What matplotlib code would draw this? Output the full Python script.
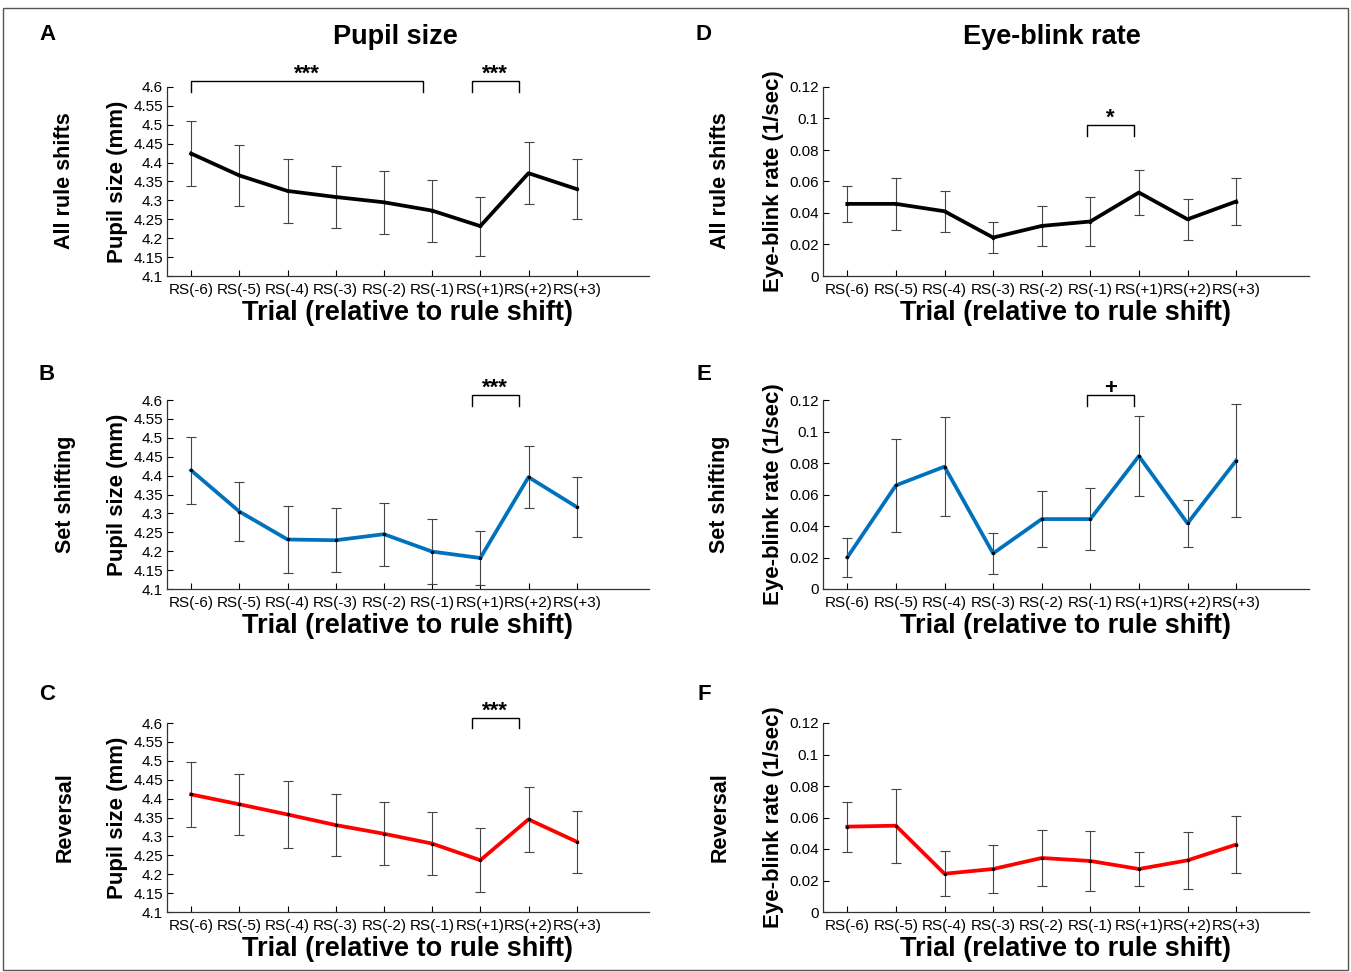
import matplotlib
matplotlib.use("Agg")
import matplotlib.pyplot as plt
from matplotlib.patches import Rectangle
from matplotlib.ticker import FuncFormatter

plt.rcParams["font.family"] = ["Liberation Sans", "DejaVu Sans"]

trial_labels = ["RS(-6)", "RS(-5)", "RS(-4)", "RS(-3)", "RS(-2)", "RS(-1)", "RS(+1)", "RS(+2)", "RS(+3)"]

# pupil size (mm): mean and s.e.m. per trial
pupil_all = [4.424, 4.366, 4.325, 4.309, 4.295, 4.273, 4.232, 4.372, 4.330]
pupil_all_err = [0.085, 0.080, 0.085, 0.083, 0.083, 0.082, 0.078, 0.082, 0.080]
pupil_set = [4.414, 4.305, 4.231, 4.229, 4.245, 4.199, 4.182, 4.396, 4.317]
pupil_set_err = [0.088, 0.077, 0.088, 0.085, 0.083, 0.085, 0.072, 0.082, 0.080]
pupil_rev = [4.411, 4.385, 4.358, 4.330, 4.307, 4.281, 4.237, 4.345, 4.286]
pupil_rev_err = [0.087, 0.081, 0.088, 0.081, 0.083, 0.084, 0.084, 0.086, 0.082]

# eye-blink rate (1/sec): mean and s.e.m. per trial
blink_all = [0.0458, 0.0458, 0.0411, 0.0244, 0.0318, 0.0346, 0.0530, 0.0360, 0.0473]
blink_all_err = [0.0115, 0.0163, 0.0129, 0.0097, 0.0127, 0.0158, 0.0145, 0.0132, 0.0150]
blink_set = [0.0201, 0.0658, 0.0777, 0.0226, 0.0444, 0.0444, 0.0844, 0.0417, 0.0815]
blink_set_err = [0.0122, 0.0295, 0.0313, 0.0128, 0.0178, 0.0195, 0.0252, 0.0151, 0.0360]
blink_rev = [0.0542, 0.0548, 0.0243, 0.0273, 0.0343, 0.0324, 0.0273, 0.0328, 0.0428]
blink_rev_err = [0.0158, 0.0236, 0.0143, 0.0154, 0.0176, 0.0192, 0.0111, 0.0180, 0.0182]

# significance brackets: (x start, x end, label)
sig_pupil_all = [(1.0, 5.82, "***"), (6.82, 7.8, "***")]
sig_pupil_set = [(6.82, 7.8, "***")]
sig_pupil_rev = [(6.82, 7.8, "***")]
sig_blink_all = [(5.94, 6.9, "*")]
sig_blink_set = [(5.94, 6.9, "+")]
sig_blink_rev = []

W, H = 1351, 972
fig = plt.figure(figsize=(W / 100, H / 100), dpi=100)


def px(x, y):
    return x / W, 1 - y / H


def panel(left, top, right, bottom, means, errs, color, kind, sigs, br_top, br_low):
    x0, y1 = px(left, top)
    x1, y0 = px(right, bottom)
    ax = fig.add_axes([x0, y0, x1 - x0, y1 - y0])
    xs = list(range(1, len(means) + 1))
    ax.errorbar(xs, means, yerr=errs, fmt="none", ecolor="#444444", elinewidth=0.8,
                capsize=3.5, capthick=0.8, zorder=2)
    ax.plot(xs, means, color=color, lw=2.7, zorder=3)
    ax.plot(xs, means, ls="none", marker=".", ms=3, color="black", zorder=4)
    ax.set_xlim(0.5, 10.5)
    if kind == "pupil":
        ax.set_ylim(4.1, 4.6)
        ax.set_yticks([4.1 + 0.05 * i for i in range(11)])
        ax.set_ylabel("Pupil size (mm)", fontsize=16, fontweight="bold")
        ax.yaxis.set_label_coords(-0.08, 0.5)
    else:
        ax.set_ylim(0, 0.12)
        ax.set_yticks([0.02 * i for i in range(7)])
        ax.set_ylabel("Eye-blink rate (1/sec)", fontsize=16, fontweight="bold")
        ax.yaxis.set_label_coords(-0.08, 0.5)
    ax.yaxis.set_major_formatter(FuncFormatter(lambda v, p: "%g" % round(v, 3)))
    ax.set_xticks(xs)
    ax.set_xticklabels(trial_labels)
    ax.tick_params(direction="in", length=4, width=0.8, labelsize=11, pad=3)
    ax.tick_params(axis="x", pad=5)
    for s in ["top", "right"]:
        ax.spines[s].set_visible(False)
    for s in ["left", "bottom"]:
        ax.spines[s].set_linewidth(0.9)
        ax.spines[s].set_color("#333333")
    ax.set_xlabel("Trial (relative to rule shift)", fontsize=19.5, fontweight="bold")
    ax.xaxis.set_label_coords(0.5, -0.125)
    ax.xaxis.label.set_va("top")
    span = br_top - br_low
    for a, b, lab in sigs:
        ax.plot([a, a, b, b], [br_low, br_top, br_top, br_low], color="black", lw=1,
                clip_on=False)
        ax.text((a + b) / 2, br_top - span * 0.35, lab, ha="center", va="bottom",
                fontsize=16, fontweight="bold", clip_on=False)
    return ax


blue = "#0072BD"
red = "#FF0000"

panel(167, 87, 649, 276, pupil_all, pupil_all_err, "black", "pupil", sig_pupil_all, 4.617, 4.588)
panel(167, 400, 649, 589, pupil_set, pupil_set_err, blue, "pupil", sig_pupil_set, 4.613, 4.584)
panel(167, 723, 649, 912, pupil_rev, pupil_rev_err, red, "pupil", sig_pupil_rev, 4.614, 4.586)
panel(823, 87, 1309, 276, blink_all, blink_all_err, "black", "blink", sig_blink_all, 0.096, 0.089)
panel(823, 400, 1309, 589, blink_set, blink_set_err, blue, "blink", sig_blink_set, 0.1232, 0.1162)
panel(823, 723, 1309, 912, blink_rev, blink_rev_err, red, "blink", sig_blink_rev, 0.1232, 0.1162)

# column titles and panel letters
fig.text(*px(395, 37), "Pupil size", ha="center", va="center", fontsize=19.5, fontweight="bold")
fig.text(*px(1052, 37), "Eye-blink rate", ha="center", va="center", fontsize=19.5, fontweight="bold")
for lab, x, y in [("A", 47, 35), ("B", 47, 375), ("C", 47, 695),
                  ("D", 704, 35), ("E", 704, 375), ("F", 704, 695)]:
    fig.text(*px(x, y), lab, ha="center", va="center", fontsize=16, fontweight="bold")

# row labels
for lab, yc in [("All rule shifts", 181), ("Set shifting", 494), ("Reversal", 817)]:
    fig.text(*px(65, yc), lab, ha="center", va="center", rotation=90, fontsize=15.5, fontweight="bold")
    fig.text(*px(720, yc), lab, ha="center", va="center", rotation=90, fontsize=15.5, fontweight="bold")

fig.patches.append(Rectangle((0.002, 0.002), 0.996, 0.99, transform=fig.transFigure,
                             fill=False, edgecolor="#555555", lw=1))

fig.savefig("out.png", dpi=100)
